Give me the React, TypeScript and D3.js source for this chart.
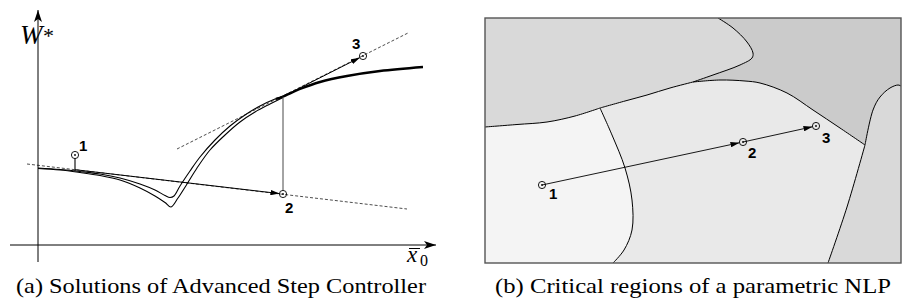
import React from 'react';
import * as d3 from 'd3';

type P = [number, number];

// ---------- Panel (a): solutions of the advanced step controller ----------
const curveInner: P[] = [[0,77],[22,75.5],[42,73.5],[62,71],[82,67],[102,61],[117,55],[127,49.5],[132,47.5],[136,49],[142,59],[152,74],[162,88],[177,105],[192,119],[207,130],[222,139],[237,146],[245,148.5]];
const curveOuter: P[] = [[0,76.5],[22,75],[42,72.5],[62,69.5],[82,65],[102,57],[117,49],[127,42.5],[133,38],[140,47],[149,61],[159,77],[172,95],[187,110],[202,123],[217,133],[232,141],[245,147.5]];
const curveOptimal: P[] = [[238,146],[245,148.5],[262,156],[282,163],[309,169],[342,174],[385,178]];
const tangentLow: P[] = [[-11,81],[369,36]];
const tangentHigh: P[] = [[139,96],[370,212]];
const stepStart: P = [37,75.3];
const stepTangentPt: P = [245,148.5];
const stemFoot: P = [37,74];
const pointsA: P[] = [[37,90],[245,51],[325,189]];
const labelsA = ['1','2','3'];
const xAxisExtent: P = [-28,398];
const yAxisExtent: P = [-17,235];

// ---------- Panel (b): critical regions ----------
const b1: P[] = [[233,245],[248,235],[262,221],[268,210],[267,205],[255,198],[228,188],[208,181]];
const b2a: P[] = [[0,136],[32,138.5],[62,141],[90,147],[115,155]];
const b2b: P[] = [[115,155],[140,162],[162,168],[185,175],[208,181]];
const b2c: P[] = [[208,181],[235,183],[260,182],[275,180],[302,170],[328,153],[355,135],[380,118]];
const b3: P[] = [[115,155],[127,128],[140,95],[147,63],[147,33],[139,13],[128,0]];
const b4a: P[] = [[343,0],[362,56],[380,118]];
const b4b: P[] = [[380,118],[388,153],[395,166],[405,175],[413,178],[416,177]];
const pointsB: P[] = [[57,78],[258,121],[331,137]];
const labelsB = ['1','2','3'];
const boxB: P[] = [[0,0],[416,245]];

const captionA = '(a) Solutions of Advanced Step Controller';
const captionB = '(b) Critical regions of a parametric NLP';

const xA = d3.scaleLinear().domain([0, 400]).range([38, 438]);
const yA = d3.scaleLinear().domain([0, 233]).range([245, 12]);
const xB = d3.scaleLinear().domain([0, 416]).range([485, 901]);
const yB = d3.scaleLinear().domain([0, 245]).range([263, 18]);

const lineA = d3.line<P>().x(d => xA(d[0])).y(d => yA(d[1])).curve(d3.curveCatmullRom);
const lineAStraight = d3.line<P>().x(d => xA(d[0])).y(d => yA(d[1]));
const lineB = d3.line<P>().x(d => xB(d[0])).y(d => yB(d[1])).curve(d3.curveCatmullRom);
const lineBStraight = d3.line<P>().x(d => xB(d[0])).y(d => yB(d[1]));

const rev = (a: P[]) => a.slice().reverse();
const join = (parts: string[]) => parts.map((p, i) => (i === 0 ? p : p.replace(/^M/, 'L'))).join('') + 'Z';

function shorten(a: P, b: P, d: number): P {
  const dx = b[0] - a[0], dy = b[1] - a[1];
  const L = Math.hypot(dx, dy);
  return [b[0] - (dx / L) * d, b[1] - (dy / L) * d];
}

const R = 3.6;
const labelOffA: P[] = [[4, -4], [2, 19], [-11, -7]];
const labelOffB: P[] = [[7, 14], [5, 16], [6, 17]];

export default function App() {
  const [bx0, by0] = [xB(boxB[0][0]), yB(boxB[1][1])];
  const [bx1, by1] = [xB(boxB[1][0]), yB(boxB[0][1])];
  const TL: P = [boxB[0][0], boxB[1][1]];
  const TR: P = [boxB[1][0], boxB[1][1]];
  const BL: P = [boxB[0][0], boxB[0][1]];
  const BR: P = [boxB[1][0], boxB[0][1]];

  const r1 = join([lineBStraight([TL, b1[0]])!, lineB(b1)!, lineB(rev(b2b))!, lineB(rev(b2a))!]);
  const r2 = join([lineBStraight([b1[0], TR, b4b[b4b.length - 1]])!, lineB(rev(b4b))!, lineB(rev(b2c))!, lineB(rev(b1))!]);
  const r3 = join([lineBStraight([b4b[b4b.length - 1], BR, b4a[0]])!, lineB(b4a)!, lineB(b4b)!]);
  const r4 = join([lineB(b2a)!, lineB(b3)!, lineBStraight([b3[b3.length - 1], BL])!]);

  const pA = pointsA.map(p => [xA(p[0]), yA(p[1])] as P);
  const pB = pointsB.map(p => [xB(p[0]), yB(p[1])] as P);

  const s1: P = [xA(stepStart[0]), yA(stepStart[1])];
  const s2: P = [xA(stepTangentPt[0]), yA(stepTangentPt[1])];
  const arrowA1End = shorten(s1, pA[1], R);
  const arrowA2End = shorten(s2, pA[2], R);
  const arrowB1End = shorten(pB[0], pB[1], R);
  const arrowB2End = shorten(pB[1], pB[2], R);

  const serif = 'Liberation Serif';
  const sans = 'Liberation Sans';

  const circle = (p: P, k: string) => (
    <g key={k}>
      <circle cx={p[0]} cy={p[1]} r={R} fill="none" stroke="#000" strokeWidth={0.9} />
      <circle cx={p[0]} cy={p[1]} r={0.9} fill="#000" />
    </g>
  );

  return (
    <svg width={903} height={301} style={{ position: 'absolute', left: 0, top: 0, background: '#fff' }}>
      <defs>
        <marker id="ah" viewBox="0 0 10 6" refX="10" refY="3" markerWidth="9" markerHeight="5.4" markerUnits="userSpaceOnUse" orient="auto">
          <path d="M0,0L10,3L0,6Z" fill="#000" />
        </marker>
        <marker id="axh" viewBox="0 0 12 8" refX="12" refY="4" markerWidth="12" markerHeight="8" markerUnits="userSpaceOnUse" orient="auto">
          <path d="M0,0L12,4L0,8L3,4Z" fill="#000" />
        </marker>
        <clipPath id="boxclip">
          <rect x={bx0} y={by0} width={bx1 - bx0} height={by1 - by0} />
        </clipPath>
      </defs>

      {/* ---------------- Panel (a) ---------------- */}
      <g>
        <line x1={xA(xAxisExtent[0])} y1={yA(0)} x2={xA(xAxisExtent[1])} y2={yA(0)} stroke="#000" strokeWidth={1} markerEnd="url(#axh)" />
        <line x1={xA(0)} y1={yA(yAxisExtent[0])} x2={xA(0)} y2={yA(yAxisExtent[1])} stroke="#000" strokeWidth={1} markerEnd="url(#axh)" />

        <path d={lineAStraight(tangentLow)!} fill="none" stroke="#000" strokeWidth={0.7} strokeDasharray="3,2" />
        <path d={lineAStraight(tangentHigh)!} fill="none" stroke="#000" strokeWidth={0.7} strokeDasharray="3,2" />

        <path d={lineA(curveInner)!} fill="none" stroke="#000" strokeWidth={1.1} />
        <path d={lineA(curveOuter)!} fill="none" stroke="#000" strokeWidth={1.1} />
        <path d={lineA(curveOptimal)!} fill="none" stroke="#000" strokeWidth={2.4} />

        <line x1={s2[0]} y1={s2[1]} x2={pA[1][0]} y2={pA[1][1] - R} stroke="#333" strokeWidth={0.9} />
        <line x1={pA[0][0]} y1={pA[0][1] + R} x2={xA(stemFoot[0])} y2={yA(stemFoot[1])} stroke="#000" strokeWidth={1.1} />

        <line x1={s1[0]} y1={s1[1]} x2={arrowA1End[0]} y2={arrowA1End[1]} stroke="#000" strokeWidth={1} markerEnd="url(#ah)" />
        <line x1={s2[0]} y1={s2[1]} x2={arrowA2End[0]} y2={arrowA2End[1]} stroke="#000" strokeWidth={1} markerEnd="url(#ah)" />

        {pA.map((p, i) => circle(p, 'a' + i))}
        {pA.map((p, i) => (
          <text key={'la' + i} x={p[0] + labelOffA[i][0]} y={p[1] + labelOffA[i][1]} style={{ fontFamily: sans, fontWeight: 700, fontSize: '15px' }}>{labelsA[i]}</text>
        ))}

        <text x={20} y={44} style={{ fontFamily: serif, fontStyle: 'italic', fontSize: '27px' }}>W</text>
        <text x={43} y={43} style={{ fontFamily: serif, fontSize: '22px' }}>*</text>
        <text x={407} y={262} style={{ fontFamily: serif, fontStyle: 'italic', fontSize: '23px' }}>x</text>
        <line x1={409} y1={248.5} x2={420} y2={248.5} stroke="#000" strokeWidth={1} />
        <text x={420} y={266} style={{ fontFamily: serif, fontSize: '16px' }}>0</text>
      </g>

      {/* ---------------- Panel (b) ---------------- */}
      <g>
        <g clipPath="url(#boxclip)">
          <rect x={bx0} y={by0} width={bx1 - bx0} height={by1 - by0} fill="#e9e9e9" />
          <path d={r1} fill="#d9d9d9" />
          <path d={r2} fill="#cbcbcb" />
          <path d={r3} fill="#d9d9d9" />
          <path d={r4} fill="#f4f4f4" />
          {[b1, b2a, b2b, b2c, b3, b4a, b4b].map((b, i) => (
            <path key={'b' + i} d={lineB(b)!} fill="none" stroke="#000" strokeWidth={1} />
          ))}
        </g>
        <rect x={bx0} y={by0} width={bx1 - bx0} height={by1 - by0} fill="none" stroke="#555" strokeWidth={1.4} />

        <line x1={pB[0][0]} y1={pB[0][1]} x2={arrowB1End[0]} y2={arrowB1End[1]} stroke="#000" strokeWidth={0.9} markerEnd="url(#ah)" />
        <line x1={pB[1][0]} y1={pB[1][1]} x2={arrowB2End[0]} y2={arrowB2End[1]} stroke="#000" strokeWidth={0.9} markerEnd="url(#ah)" />
        {pB.map((p, i) => circle(p, 'b' + i))}
        {pB.map((p, i) => (
          <text key={'lb' + i} x={p[0] + labelOffB[i][0]} y={p[1] + labelOffB[i][1]} style={{ fontFamily: sans, fontWeight: 700, fontSize: '15px' }}>{labelsB[i]}</text>
        ))}
      </g>

      {/* ---------------- Captions ---------------- */}
      <text x={16} y={293} style={{ fontFamily: serif, fontSize: '22px' }} textLength={410} lengthAdjust="spacingAndGlyphs">{captionA}</text>
      <text x={495} y={293} style={{ fontFamily: serif, fontSize: '22px' }} textLength={396} lengthAdjust="spacingAndGlyphs">{captionB}</text>
    </svg>
  );
}
